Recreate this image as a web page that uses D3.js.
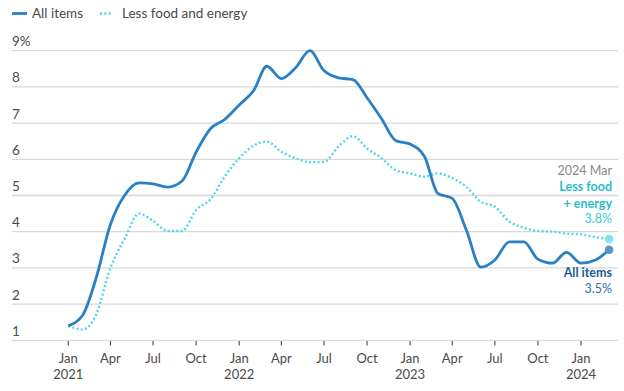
<!DOCTYPE html>
<html>
<head>
<meta charset="utf-8">
<script src="https://cdn.jsdelivr.net/npm/d3@7"></script>
<style>
html, body { margin: 0; padding: 0; background: #fff; overflow: hidden; }
svg { font-family: Lato, "Open Sans", sans-serif; }
.grid line { stroke: #d9d9d9; stroke-width: 1.3; }
.ylab { fill: #4a4a4a; font-size: 13.5px; }
.xlab { fill: #4a4a4a; font-size: 13px; text-anchor: middle; }
.legend { fill: #4a4a4a; font-size: 13.5px; }
</style>
</head>
<body>
<script>

// monthly, Jan 2021 .. Mar 2024
var months = [
  '2021-01','2021-02','2021-03','2021-04','2021-05','2021-06','2021-07','2021-08','2021-09','2021-10','2021-11','2021-12',
  '2022-01','2022-02','2022-03','2022-04','2022-05','2022-06','2022-07','2022-08','2022-09','2022-10','2022-11','2022-12',
  '2023-01','2023-02','2023-03','2023-04','2023-05','2023-06','2023-07','2023-08','2023-09','2023-10','2023-11','2023-12',
  '2024-01','2024-02','2024-03'
];

var allItems = [
  1.4, 1.7, 2.7, 4.2, 5.0, 5.35, 5.32, 5.23, 5.4, 6.2, 6.85, 7.1,
  7.5, 7.9, 8.57, 8.23, 8.52, 9.0, 8.45, 8.25, 8.2, 7.7, 7.12, 6.52,
  6.42, 6.07, 5.06, 4.92, 4.05, 3.02, 3.22, 3.72, 3.72, 3.24, 3.13, 3.43,
  3.13, 3.22, 3.5
];

var lessFoodEnergy = [
  1.4, 1.3, 1.7, 3.0, 3.8, 4.5, 4.3, 4.02, 4.02, 4.6, 4.9, 5.52,
  6.03, 6.38, 6.49, 6.21, 6.03, 5.92, 5.93, 6.35, 6.64, 6.3, 6.03, 5.7,
  5.61, 5.52, 5.61, 5.48, 5.24, 4.83, 4.69, 4.28, 4.11, 4.02, 4.0, 3.95,
  3.93, 3.85, 3.8
];

var yTicks = [1, 2, 3, 4, 5, 6, 7, 8, 9];
var xTicks = ['2021-01','2021-04','2021-07','2021-10','2022-01','2022-04','2022-07','2022-10',
              '2023-01','2023-04','2023-07','2023-10','2024-01'];

var w = 624, h = 391;
var parse = d3.timeParse('%Y-%m');
var dates = months.map(parse);

var svg = d3.select('body').append('svg')
  .attr('width', w)
  .attr('height', h);

var x = d3.scaleTime()
  .domain([parse('2021-01'), parse('2024-01')])
  .range([68.3, 581]);

var y = d3.scaleLinear()
  .domain([1, 9])
  .range([340.3, 50.7]);

// gridlines + y labels
var grid = svg.append('g').attr('class', 'grid');
grid.selectAll('line')
  .data(yTicks)
  .enter().append('line')
    .attr('x1', 12)
    .attr('x2', 618)
    .attr('y1', function(d){ return y(d); })
    .attr('y2', function(d){ return y(d); });

svg.selectAll('text.ylab')
  .data(yTicks)
  .enter().append('text')
    .attr('class', 'ylab')
    .attr('x', 12)
    .attr('y', function(d){ return y(d) - 4.5; })
    .text(function(d){ return d === 9 ? '9%' : d; });

// x ticks
var xt = svg.append('g');
xt.selectAll('line')
  .data(xTicks)
  .enter().append('line')
    .attr('x1', function(d){ return x(parse(d)); })
    .attr('x2', function(d){ return x(parse(d)); })
    .attr('y1', 341)
    .attr('y2', 345.5)
    .style('stroke', '#555')
    .style('stroke-width', 1.2);

var fmtMonth = d3.timeFormat('%b');
xt.selectAll('text.m')
  .data(xTicks)
  .enter().append('text')
    .attr('class', 'xlab m')
    .attr('x', function(d){ return x(parse(d)); })
    .attr('y', 362.5)
    .text(function(d){ return fmtMonth(parse(d)); });

xt.selectAll('text.yr')
  .data(xTicks.filter(function(d){ return d.slice(5) === '01'; }))
  .enter().append('text')
    .attr('class', 'xlab yr')
    .attr('x', function(d){ return x(parse(d)); })
    .attr('y', 378.5)
    .text(function(d){ return d.slice(0, 4); });

// lines
var line = d3.line()
  .x(function(d, i){ return x(dates[i]); })
  .y(function(d){ return y(d); })
  .curve(d3.curveMonotoneX);

var blue = '#2a80c6', cyan = '#4dd8e6';

svg.append('path')
  .datum(lessFoodEnergy)
  .attr('d', line)
  .style('fill', 'none')
  .style('stroke', cyan)
  .style('stroke-width', 2.4)
  .style('stroke-dasharray', '2,2.3');

svg.append('path')
  .datum(allItems)
  .attr('d', line)
  .style('fill', 'none')
  .style('stroke', blue)
  .style('stroke-width', 2.8)
  .style('stroke-linejoin', 'round');

// end dots
var last = dates.length - 1;
svg.append('circle')
  .attr('cx', x(dates[last]))
  .attr('cy', y(lessFoodEnergy[last]))
  .attr('r', 4.3)
  .style('fill', '#7fe3ee');
svg.append('circle')
  .attr('cx', x(dates[last]))
  .attr('cy', y(allItems[last]))
  .attr('r', 4.3)
  .style('fill', '#5a93cc');

// end annotations
var ax = 612;
function note(txt, yy, color, weight) {
  svg.append('text')
    .attr('x', ax)
    .attr('y', yy)
    .attr('text-anchor', 'end')
    .style('font-size', '12.5px')
    .style('font-weight', weight)
    .style('fill', color)
    .text(txt);
}
note('2024 Mar', 174.5, '#8a8a8a', 400);
note('Less food', 191, '#2bbcc9', 700);
note('+ energy', 207.5, '#2bbcc9', 700);
note(lessFoodEnergy[last].toFixed(1) + '%', 222.5, '#3cc6d2', 400);
note('All items', 276.5, '#1d5b98', 700);
note(allItems[last].toFixed(1) + '%', 292.5, '#2f70b2', 400);

// legend
svg.append('line')
  .attr('x1', 12).attr('x2', 27).attr('y1', 13.5).attr('y2', 13.5)
  .style('stroke', blue).style('stroke-width', 2.8);
svg.append('text').attr('class', 'legend')
  .attr('x', 32).attr('y', 18.3).text('All items');
svg.append('line')
  .attr('x1', 100).attr('x2', 113).attr('y1', 13.5).attr('y2', 13.5)
  .style('stroke', cyan).style('stroke-width', 2.4)
  .style('stroke-dasharray', '2,2.3');
svg.append('text').attr('class', 'legend')
  .attr('x', 122).attr('y', 18.3).text('Less food and energy');

</script>
</body>
</html>
